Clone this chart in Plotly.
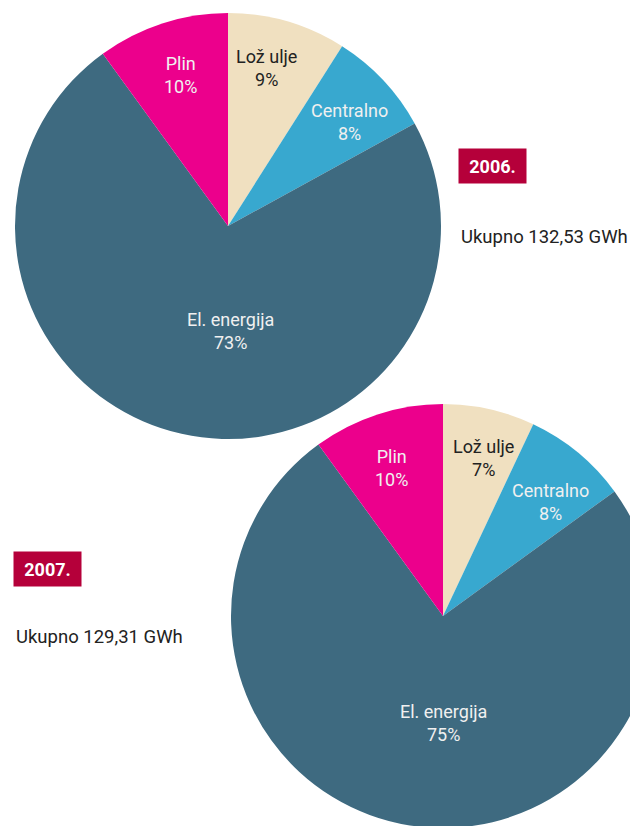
import plotly.graph_objects as go

# Data
labels = ["Lož ulje", "Centralno", "El. energija", "Plin"]
values_2006 = [9, 8, 73, 10]
values_2007 = [7, 8, 75, 10]
years = ["2006.", "2007."]
totals = ["Ukupno 132,53 GWh", "Ukupno 129,31 GWh"]

colors = ["#F0E0C0", "#38A8CF", "#3E6A80", "#EC008C"]
text_colors = ["#222222", "#F0F0F0", "#F0F0F0", "#F0F0F0"]
FONT = "Roboto, Arial, sans-serif"

W, H = 680, 830

# label anchor points (pixels) for each pie's slice labels
label_pos_2006 = [(266, 68), (350, 122), (230, 331), (180, 75)]
label_pos_2007 = [(483, 458), (550, 502), (443, 723), (392, 468)]

def dx(px0, px1):
    return [px0 / W, px1 / W]

def dy(py0, py1):
    return [1 - py1 / H, 1 - py0 / H]

fig = go.Figure()

def ann(text, px, py, **kw):
    fig.add_annotation(text=text, x=px / W, y=1 - py / H, xref="paper", yref="paper",
                       showarrow=False, **kw)

for vals, dom, lpos in [(values_2006, (dx(15, 441), dy(13, 439)), label_pos_2006),
                        (values_2007, (dx(231, 655), dy(404, 828)), label_pos_2007)]:
    fig.add_trace(go.Pie(
        labels=labels, values=vals, sort=False, direction="clockwise", rotation=0,
        marker=dict(colors=colors, line=dict(width=0)),
        textinfo="none",
        domain=dict(x=dom[0], y=dom[1]), showlegend=False, hoverinfo="label+percent",
    ))
    for lab, v, tc, (px, py) in zip(labels, vals, text_colors, lpos):
        ann(f"{lab}<br>{v}%", px, py, xanchor="center", yanchor="middle", align="center",
            font=dict(family=FONT, size=18, color=tc))

# year boxes
for yr, (cx, cy) in zip(years, [(492, 166), (47, 569)]):
    ann(f"<b>{yr}</b>", cx, cy, width=59, height=26, borderpad=4, bgcolor="#B5003A",
        font=dict(family=FONT, size=18, color="white"), xanchor="center", yanchor="middle")
for t, (lx, cy) in zip(totals, [(459, 237), (14, 637)]):
    ann(t, lx, cy, xanchor="left", yanchor="middle",
        font=dict(family=FONT, size=18.5, color="#222222"))

fig.update_layout(width=W, height=H, margin=dict(l=0, r=0, t=0, b=0),
                  paper_bgcolor="white", plot_bgcolor="white", autosize=False)

fig.write_html("out.html", config={"displayModeBar": False}, post_script=(
    "document.body.style.margin='0';document.body.style.overflow='hidden';"
    "document.documentElement.style.overflow='hidden';"))
